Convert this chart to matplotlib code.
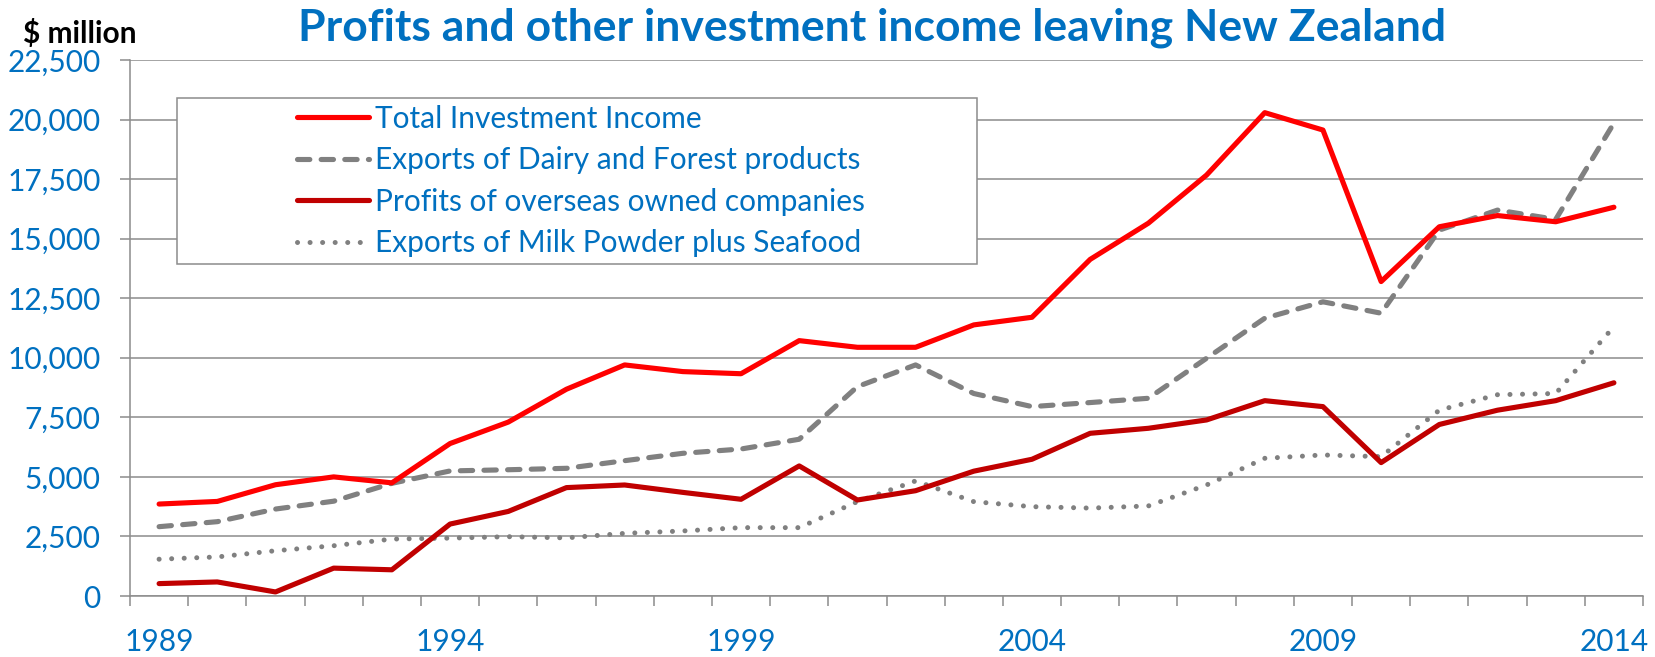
import matplotlib
matplotlib.use("Agg")
import matplotlib.pyplot as plt
import numpy as np
from matplotlib.patches import Rectangle
from matplotlib.ticker import FuncFormatter

years = list(range(1989, 2015))
total_income = [3860, 3970, 4670, 5000, 4750, 6400, 7300, 8680, 9700, 9420, 9330, 10720, 10440,
                10440, 11380, 11700, 14130, 15650, 17670, 20290, 19560, 13200, 15500, 15970, 15710, 16320]
dairy_forest = [2910, 3120, 3650, 3980, 4730, 5250, 5300, 5360, 5680, 5990, 6170, 6580, 8790,
                9700, 8500, 7950, 8120, 8300, 9980, 11660, 12350, 11870, 15360, 16200, 15810, 19850]
profits = [520, 590, 170, 1170, 1100, 3020, 3550, 4550, 4660, 4350, 4060, 5460, 4030,
           4420, 5240, 5740, 6830, 7040, 7390, 8200, 7950, 5600, 7200, 7800, 8200, 8950]
milk_seafood = [1545, 1640, 1900, 2110, 2390, 2430, 2490, 2440, 2630, 2730, 2870, 2870, 3960,
                4830, 3960, 3750, 3690, 3780, 4660, 5780, 5920, 5850, 7800, 8450, 8500, 11310]
labels = ["Total Investment Income", "Exports of Dairy and Forest products",
          "Profits of overseas owned companies", "Exports of Milk Powder plus Seafood"]
yticks = np.arange(0, 22501, 2500)
label_years = [1989, 1994, 1999, 2004, 2009, 2014]

blue = "#0070C0"
grid_grey = "#8c8c8c"
plt.rcParams['font.family'] = ['Lato', 'DejaVu Sans']

W, H = 1655, 657
fig = plt.figure(figsize=(W / 100, H / 100), dpi=100)
ax = fig.add_axes([130 / W, 1 - 596 / H, (1643 - 130) / W, (596 - 60) / H])

x = np.arange(len(years))
ax.plot(x, total_income, color="#FF0000", lw=3.7, solid_capstyle="round", label=labels[0], zorder=4)
ax.plot(x, dairy_forest, color="#808080", lw=3.7, dashes=(2.4, 2.2), dash_capstyle="round",
        label=labels[1], zorder=3.5)
ax.plot(x, profits, color="#C00000", lw=3.7, solid_capstyle="round", label=labels[2], zorder=4)
ax.plot(x, milk_seafood, color="#808080", lw=3.6, dashes=(0.01, 2.5), dash_capstyle="round",
        label=labels[3], zorder=3.5)

ax.set_xlim(-0.5, len(years) - 0.5)
ax.set_ylim(0, 22500)
ax.set_yticks(yticks)
ax.yaxis.set_major_formatter(FuncFormatter(lambda v, p: f"{int(v):,}"))
ax.grid(axis="y", color=grid_grey, lw=1.1)
ax.set_axisbelow(True)

ax.set_xticks([years.index(y) for y in label_years])
ax.set_xticklabels([str(y) for y in label_years])
ax.set_xticks(np.arange(-0.5, len(years)), minor=True)
ax.tick_params(axis="x", which="major", length=0, pad=23, labelsize=21.5, labelcolor=blue)
ax.tick_params(axis="x", which="minor", length=7.2, width=1.1, color=grid_grey, direction="out")
ax.tick_params(axis="y", length=7.2, width=1.1, color=grid_grey, pad=14, labelsize=21.5, labelcolor=blue)

for s in ["top", "right"]:
    ax.spines[s].set_visible(False)
for s in ["left", "bottom"]:
    ax.spines[s].set_color(grid_grey)
    ax.spines[s].set_linewidth(1.1)

# legend frame drawn separately, Excel-style wide padding
frame = Rectangle((177 / W, 1 - 264 / H), (977 - 177) / W, (264 - 98) / H, transform=fig.transFigure,
                  facecolor="white", edgecolor=grid_grey, lw=1.1, zorder=5, clip_on=False)
ax.add_patch(frame)
leg = ax.legend(loc="center left", bbox_to_anchor=(297 / W, 1 - 181 / H), bbox_transform=fig.transFigure,
                frameon=False, fontsize=21.5, handlelength=2.4, handletextpad=0.2, labelspacing=0.45,
                borderpad=0, borderaxespad=0)
leg.set_zorder(6)
for t in leg.get_texts():
    t.set_color(blue)

fig.text(0.527, 1 - 40 / H, "Profits and other investment income leaving New Zealand", ha="center",
         va="baseline", fontsize=32, fontweight="bold", color=blue)
fig.text(23 / W, 1 - 43 / H, "$ million", ha="left", va="baseline", fontsize=21.5, fontweight="bold",
         color="black")

fig.savefig("out.png", dpi=100)
